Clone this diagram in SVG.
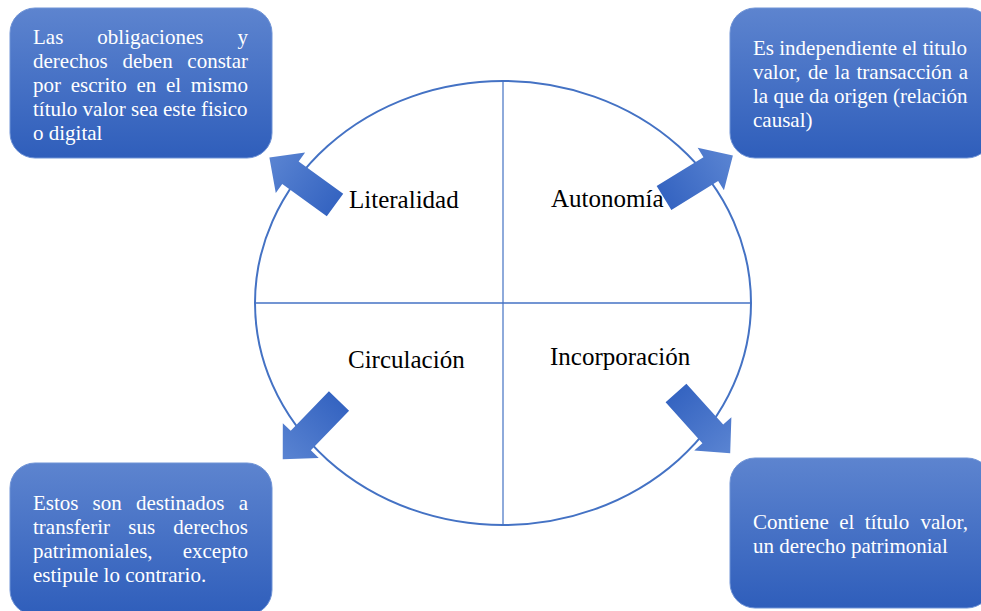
<svg xmlns="http://www.w3.org/2000/svg" width="981" height="611" viewBox="0 0 981 611">
<defs>
<linearGradient id="boxGrad" x1="0" y1="0" x2="0" y2="1">
<stop offset="0" stop-color="#5d84cf"/>
<stop offset="1" stop-color="#2f5ebb"/>
</linearGradient>
<linearGradient id="arrGrad" x1="0" y1="0" x2="1" y2="0">
<stop offset="0" stop-color="#3564c1"/>
<stop offset="1" stop-color="#5a84d2"/>
</linearGradient>
<path id="arrow" d="M0,-14 L55,-14 L55,-25 L81,0 L55,25 L55,14 L0,14 Z"/>
</defs>
<style>
.box{fill:url(#boxGrad);stroke:#6f93d6;stroke-width:1}
.bt{font-family:"Liberation Serif","Times New Roman",serif;font-size:21px;fill:#ffffff}
.e{text-anchor:end}
.lbl{font-family:"Liberation Serif","Times New Roman",serif;font-size:25px;fill:#000000}
.ln{stroke:#4472c4;fill:none}
.arr{fill:url(#arrGrad)}
</style>
<rect width="981" height="611" fill="#ffffff"/>

<g id="circle">
<ellipse class="ln" cx="503" cy="303" rx="248" ry="222" stroke-width="2"/>
<line class="ln" x1="255" y1="303" x2="751" y2="303" stroke-width="1.5"/>
<line class="ln" x1="503" y1="81" x2="503" y2="525" stroke-width="1.5" stroke-opacity="0.8"/>
</g>

<g id="connectors">
<use href="#arrow" class="arr" transform="translate(335,205) rotate(215.9)"/>
<use href="#arrow" class="arr" transform="translate(664,198) rotate(-31.7)"/>
<use href="#arrow" class="arr" transform="translate(339,401) rotate(134)"/>
<use href="#arrow" class="arr" transform="translate(676,393) rotate(48)"/>
</g>

<g id="label-literalidad"><text class="lbl" x="349" y="208">Literalidad</text></g>
<g id="label-autonomia"><text class="lbl" x="551" y="207">Autonomía</text></g>
<g id="label-circulacion"><text class="lbl" x="348" y="368">Circulación</text></g>
<g id="label-incorporacion"><text class="lbl" x="550" y="365">Incorporación</text></g>

<g id="box-literalidad">
<rect class="box" x="10" y="8" width="262" height="150" rx="25"/>
<text class="bt" x="33" y="44">Las</text>
<text class="bt" x="97.3" y="44">obligaciones</text>
<text class="bt e" x="248" y="44">y</text>
<text class="bt" x="33" y="68">derechos</text>
<text class="bt" x="122.5" y="68">deben</text>
<text class="bt e" x="248" y="68">constar</text>
<text class="bt" x="33" y="92">por</text>
<text class="bt" x="70.7" y="92">escrito</text>
<text class="bt" x="136.4" y="92">en</text>
<text class="bt" x="165.9" y="92">el</text>
<text class="bt e" x="248" y="92">mismo</text>
<text class="bt" x="33" y="116">título valor sea este fisico</text>
<text class="bt" x="33" y="140">o digital</text>
</g>

<g id="box-autonomia">
<rect class="box" x="730" y="8" width="262" height="150" rx="25"/>
<text class="bt" x="753" y="55">Es independiente el titulo</text>
<text class="bt" x="753" y="79">valor,</text>
<text class="bt" x="808.1" y="79">de</text>
<text class="bt" x="834.6" y="79">la</text>
<text class="bt" x="856.5" y="79">transacción</text>
<text class="bt e" x="968" y="79">a</text>
<text class="bt" x="753" y="103">la que da origen (relación</text>
<text class="bt" x="753" y="127">causal)</text>
</g>

<g id="box-circulacion">
<rect class="box" x="10" y="463" width="262" height="152" rx="25"/>
<text class="bt" x="33" y="510">Estos</text>
<text class="bt" x="92.6" y="510">son</text>
<text class="bt" x="135.9" y="510">destinados</text>
<text class="bt e" x="248" y="510">a</text>
<text class="bt" x="33" y="534">transferir</text>
<text class="bt" x="128.3" y="534">sus</text>
<text class="bt e" x="248" y="534">derechos</text>
<text class="bt" x="33" y="558">patrimoniales,</text>
<text class="bt e" x="248" y="558">excepto</text>
<text class="bt" x="33" y="582">estipule lo contrario.</text>
</g>

<g id="box-incorporacion">
<rect class="box" x="730" y="458" width="262" height="150" rx="25"/>
<text class="bt" x="753" y="529">Contiene</text>
<text class="bt" x="839.2" y="529">el</text>
<text class="bt" x="864.8" y="529">título</text>
<text class="bt e" x="968" y="529">valor,</text>
<text class="bt" x="753" y="553">un derecho patrimonial</text>
</g>
</svg>
